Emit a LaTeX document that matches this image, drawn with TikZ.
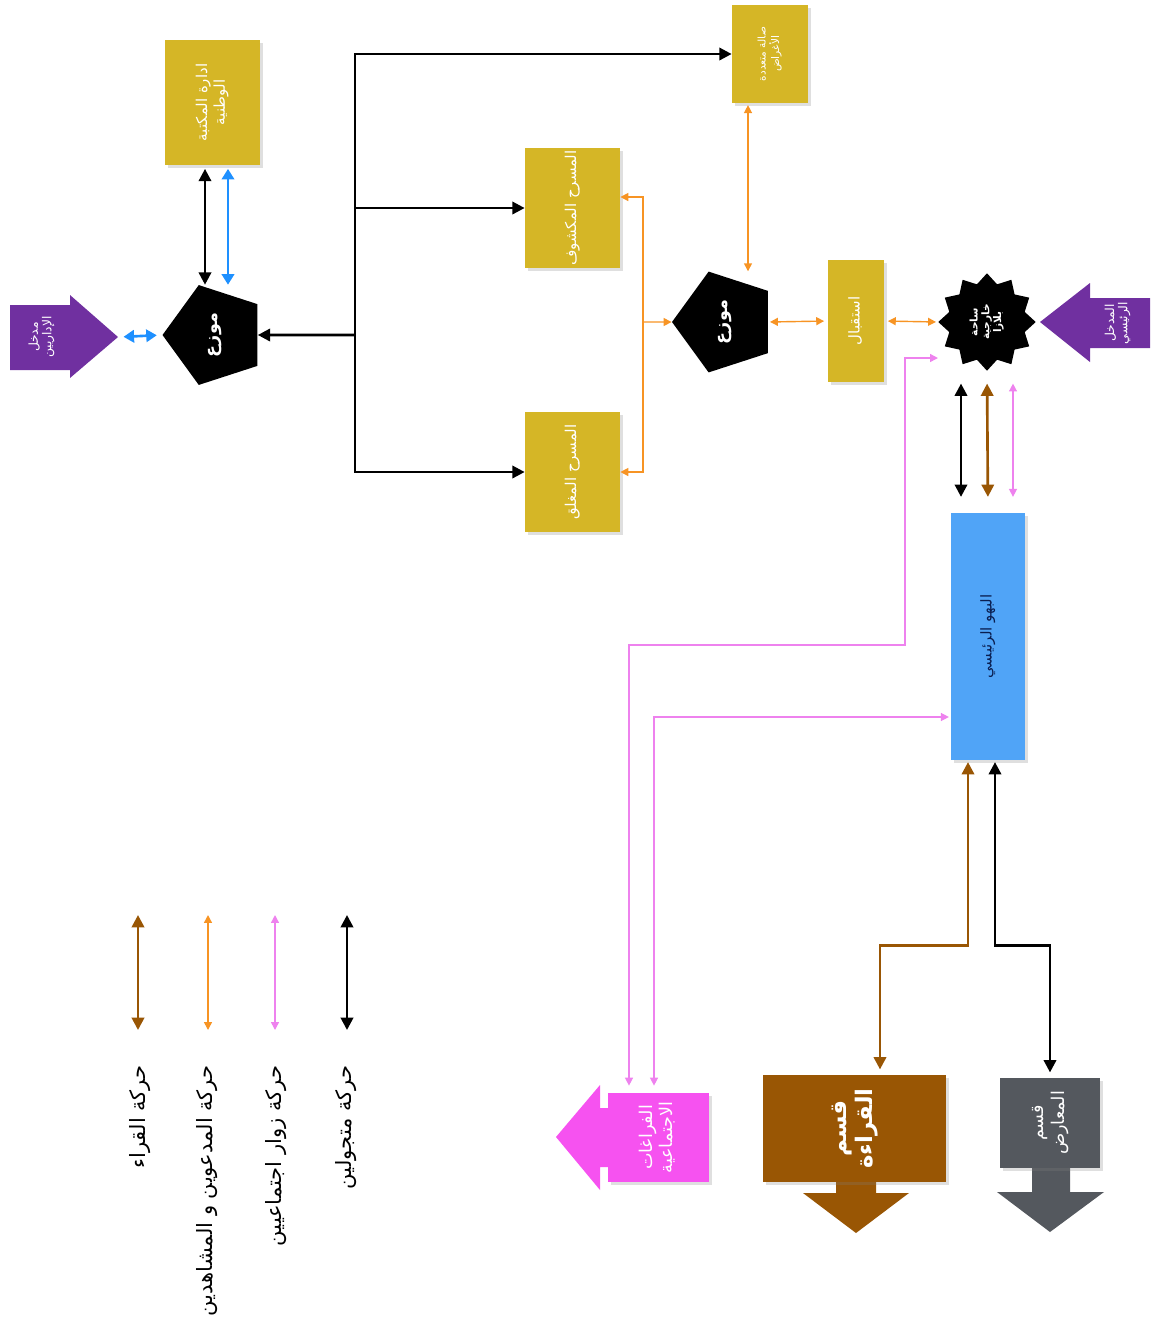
\documentclass[tikz,border=0pt]{standalone}
\usepackage{fontspec}
\usepackage{graphicx}
\newfontfamily\arabicfont[Script=Arabic]{DejaVu Sans}
\TeXXeTstate=1
\usetikzlibrary{shapes.geometric,arrows.meta,shadows,positioning}
\definecolor{gold}{RGB}{213,182,38}
\definecolor{purp}{RGB}{112,48,160}
\definecolor{hallblue}{RGB}{80,164,247}
\definecolor{arrblue}{RGB}{30,144,255}
\definecolor{orng}{RGB}{247,148,36}
\definecolor{brwn}{RGB}{153,86,4}
\definecolor{pnk}{RGB}{238,130,238}
\definecolor{mgnt}{RGB}{246,82,240}
\definecolor{slate}{RGB}{84,88,94}
\definecolor{navy}{RGB}{10,30,80}
\newcommand{\rl}[1]{\beginR#1\endR}
\newcommand{\vlines}[1]{\rotatebox{90}{\renewcommand{\arraystretch}{0.95}\begin{tabular}{@{}c@{}}#1\end{tabular}}}
\begin{document}
\begin{tikzpicture}[x=0.02cm,y=-0.02cm,
  box/.style={fill=gold,inner sep=0pt,text=white,font=\arabicfont\fontsize{8.5}{10.5}\selectfont,
    drop shadow={shadow xshift=1.5pt,shadow yshift=-1.5pt,opacity=0.25}},
  dist/.style={regular polygon,regular polygon sides=5,shape border rotate=90,fill=black,
    minimum size=2.1cm,inner sep=0pt,text=white,font=\arabicfont\bfseries\fontsize{10}{12}\selectfont},
  blk/.style={draw=black,line width=1.5pt,>={Triangle[length=7pt,width=7pt]}},
  blu/.style={draw=arrblue,line width=1.5pt,>={Triangle[length=6pt,width=7pt]}},
  brn/.style={draw=brwn,line width=1.5pt,>={Triangle[length=7pt,width=7pt]}},
  org/.style={draw=orng,line width=0.8pt,>={Triangle[length=4.5pt,width=4.5pt]}},
  pk/.style={draw=pnk,line width=0.8pt,>={Triangle[length=4.5pt,width=4.5pt]}},
  legtxt/.style={inner sep=0pt,font=\arabicfont\fontsize{12}{14}\selectfont}]
\useasboundingbox (0,0) rectangle (1155,1330);
% entrance arrows
\fill[purp] (10,305) -- (70,305) -- (70,295) -- (118,337) -- (70,378) -- (70,370) -- (10,370) -- cycle;
\node[text=white,font=\arabicfont\fontsize{7}{8}\selectfont] (entA) at (42,337) {\vlines{\rl{مدخل}\\\rl{الإداريين}}};
\coordinate (entAtip) at (120,337);
\fill[purp] (1150,298) -- (1090,298) -- (1090,283) -- (1040,322) -- (1090,362) -- (1090,348) -- (1150,348) -- cycle;
\node[text=white,font=\arabicfont\fontsize{7}{8}\selectfont] (entB) at (1118,323) {\vlines{\rl{المدخل}\\\rl{الرئيسي}}};
% boxes
\node[box,minimum width=1.9cm,minimum height=2.5cm] (admin) at (212.5,102.5) {\vlines{\rl{ادارة المكتبة}\\\rl{الوطنية}}};
\node[dist] (dist1) at (215,335) {\rotatebox{90}{\rl{موزع}}};
\node[box,minimum width=1.52cm,minimum height=1.96cm,font=\arabicfont\fontsize{6}{7}\selectfont] (sala) at (770,54) {\vlines{\rl{صالة متعددة}\\\rl{الأغراض}}};
\node[box,minimum width=1.9cm,minimum height=2.4cm] (open) at (572.5,208) {\vlines{\rl{المسرح المكشوف}}};
\node[box,minimum width=1.9cm,minimum height=2.4cm] (closed) at (572.5,472) {\vlines{\rl{المسرح المغلق}}};
\node[dist,minimum size=2.12cm] (dist2) at (725,322) {\rotatebox{90}{\rl{موزع}}};
\node[box,minimum width=1.12cm,minimum height=2.44cm] (rec) at (856,321) {\vlines{\rl{استقبال}}};
\node[star,star points=12,star point ratio=1.25,fill=black,minimum size=1.95cm,inner sep=0pt,
  text=white,font=\arabicfont\bfseries\fontsize{6}{7}\selectfont] (plaza) at (987,322) {\vlines{\rl{ساحة}\\\rl{خارجية}\\\rl{بلازا}}};
\node[box,fill=hallblue,minimum width=1.48cm,minimum height=4.94cm,text=navy] (hall) at (988,636.5) {\vlines{\rl{البهو الرئيسي}}};
% output arrows
\fill[brwn] (836,1150) -- (876,1150) -- (876,1193) -- (909,1193) -- (856,1233) -- (803,1193) -- (836,1193) -- cycle;
\node[box,fill=brwn,minimum width=3.66cm,minimum height=2.14cm,font=\arabicfont\bfseries\fontsize{13}{15}\selectfont] (read) at (854.5,1128.5) {\vlines{\rl{قسم}\\\rl{القراءة}}};
\fill[slate] (1032,1150) -- (1070,1150) -- (1070,1192) -- (1104,1192) -- (1050,1232) -- (997,1192) -- (1032,1192) -- cycle;
\node[box,fill=slate,minimum width=2.0cm,minimum height=1.8cm,font=\arabicfont\fontsize{10}{12}\selectfont] (exh) at (1050,1123) {\vlines{\rl{قسم}\\\rl{المعارض}}};
\fill[mgnt] (615,1108) -- (600,1108) -- (600,1085) -- (556,1137) -- (600,1190) -- (600,1167) -- (615,1167) -- cycle;
\node[box,fill=mgnt,minimum width=2.02cm,minimum height=1.78cm,font=\arabicfont\fontsize{10}{12}\selectfont] (soc) at (658.5,1137.5) {\vlines{\rl{الفراغات}\\\rl{الاجتماعية}}};
% black distribution tree
\coordinate (hub) at (355,335);
\draw[blk,->] (hub) -- (dist1.east);
\draw[blk,->] (hub) |- (sala.west);
\draw[blk,->] (hub) |- (open.west);
\draw[blk,->] (hub) |- (closed.west);
% administration links
\draw[blk,<->,shorten <=2pt,shorten >=3pt] ([xshift=-0.15cm]admin.south) -- ([xshift=-0.15cm]admin.south |- dist1.north);
\draw[blu,<->,shorten <=2pt,shorten >=3pt] ([xshift=0.31cm]admin.south) -- ([xshift=0.31cm]admin.south |- dist1.north);
\draw[blu,<->,shorten <=2pt,shorten >=3pt] (entAtip) -- (dist1.west);
% orange links
\coordinate (jn) at (643,322);
\draw[org,->] (jn) |- ([yshift=0.22cm]open.east);
\draw[org,->] (jn) |- (closed.east);
\draw[org,->] (jn) -- (dist2.west);
\draw[org,<->,shorten <=1pt,shorten >=3pt] ([xshift=-0.44cm]sala.south) -- ([xshift=-0.44cm]sala.south |- dist2.north);
\draw[org,<->,shorten <=1pt,shorten >=2pt] (dist2.east) -- (rec.west);
\draw[org,<->,shorten <=2pt,shorten >=1pt] (rec.east) -- (plaza.west);
% plaza to hall
\draw[blk,<->,shorten <=9pt,shorten >=7pt] ([xshift=-0.54cm]hall.north) -- ([xshift=-0.54cm]hall.north |- plaza.south);
\draw[brn,<->,shorten <=9pt,shorten >=7pt] (hall.north) -- (plaza.south);
\draw[pk,<->,shorten <=9pt,shorten >=7pt] ([xshift=0.5cm]hall.north) -- ([xshift=0.5cm]hall.north |- plaza.south);
% pink links
\coordinate (pturn) at (905,645);
\coordinate (plz) at (938,358);
\draw[pk,<->,shorten <=4pt] ([xshift=-0.59cm]soc.north) |- (pturn) |- (plz);
\draw[pk,<->,shorten <=4pt,shorten >=1pt] ([xshift=-0.09cm]soc.north) |- ([yshift=-1.61cm]hall.west);
% hall to sections
\draw[brn,<->,shorten <=1pt,shorten >=3pt] ([xshift=-0.4cm]hall.south) -- ++(0,185) -| ([xshift=0.51cm]read.north);
\draw[blk,<->,shorten <=1pt,shorten >=3pt] ([xshift=0.14cm]hall.south) -- ++(0,185) -| (exh.north);
% legend
\draw[brn,<->] (138,915) -- (138,1030);
\draw[org,<->] (208,915) -- (208,1030);
\draw[pk,<->] (275,915) -- (275,1030);
\draw[blk,<->] (347,915) -- (347,1030);
\node[legtxt,anchor=north] (lg1) at (140,1065) {\rotatebox{90}{\rl{حركة القراء}}};
\node[legtxt,anchor=north] (lg2) at (207,1065) {\rotatebox{90}{\rl{حركة المدعوين و المشاهدين}}};
\node[legtxt,anchor=north] (lg3) at (276,1065) {\rotatebox{90}{\rl{حركة زوار اجتماعيين}}};
\node[legtxt,anchor=north] (lg4) at (346,1065) {\rotatebox{90}{\rl{حركة متجولين}}};
\end{tikzpicture}
\end{document}
